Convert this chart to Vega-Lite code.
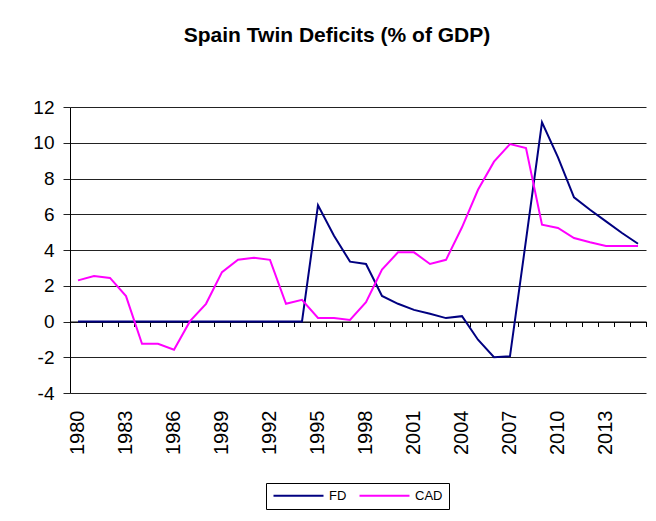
{
  "$schema": "https://vega.github.io/schema/vega-lite/v6.json",
  "width": 576,
  "height": 286,
  "autosize": {"type": "none"},
  "padding": {"left": 70, "top": 107, "right": 10, "bottom": 128},
  "background": "white",
  "title": {
    "text": "Spain Twin Deficits (% of GDP)",
    "font": "Liberation Sans",
    "fontSize": 21,
    "fontWeight": "bold",
    "color": "black",
    "anchor": "middle",
    "dx": -21,
    "offset": 52
  },
  "config": {
    "view": {"stroke": null},
    "axis": {"labelFont": "Liberation Sans", "labelColor": "black"}
  },
  "data": {
    "values": [
      {"year": 1980, "series": "FD", "value": 0}, {"year": 1981, "series": "FD", "value": 0},
      {"year": 1982, "series": "FD", "value": 0}, {"year": 1983, "series": "FD", "value": 0},
      {"year": 1984, "series": "FD", "value": 0}, {"year": 1985, "series": "FD", "value": 0},
      {"year": 1986, "series": "FD", "value": 0}, {"year": 1987, "series": "FD", "value": 0},
      {"year": 1988, "series": "FD", "value": 0}, {"year": 1989, "series": "FD", "value": 0},
      {"year": 1990, "series": "FD", "value": 0}, {"year": 1991, "series": "FD", "value": 0},
      {"year": 1992, "series": "FD", "value": 0}, {"year": 1993, "series": "FD", "value": 0},
      {"year": 1994, "series": "FD", "value": 0}, {"year": 1995, "series": "FD", "value": 6.5},
      {"year": 1996, "series": "FD", "value": 4.8}, {"year": 1997, "series": "FD", "value": 3.35},
      {"year": 1998, "series": "FD", "value": 3.22}, {"year": 1999, "series": "FD", "value": 1.43},
      {"year": 2000, "series": "FD", "value": 0.99}, {"year": 2001, "series": "FD", "value": 0.65},
      {"year": 2002, "series": "FD", "value": 0.43}, {"year": 2003, "series": "FD", "value": 0.19},
      {"year": 2004, "series": "FD", "value": 0.3}, {"year": 2005, "series": "FD", "value": -1.02},
      {"year": 2006, "series": "FD", "value": -2.0}, {"year": 2007, "series": "FD", "value": -1.94},
      {"year": 2008, "series": "FD", "value": 4.55}, {"year": 2009, "series": "FD", "value": 11.14},
      {"year": 2010, "series": "FD", "value": 9.18}, {"year": 2011, "series": "FD", "value": 6.95},
      {"year": 2012, "series": "FD", "value": 6.25}, {"year": 2013, "series": "FD", "value": 5.6},
      {"year": 2014, "series": "FD", "value": 4.95}, {"year": 2015, "series": "FD", "value": 4.35},
      {"year": 1980, "series": "CAD", "value": 2.3}, {"year": 1981, "series": "CAD", "value": 2.55},
      {"year": 1982, "series": "CAD", "value": 2.44}, {"year": 1983, "series": "CAD", "value": 1.42},
      {"year": 1984, "series": "CAD", "value": -1.25}, {"year": 1985, "series": "CAD", "value": -1.25},
      {"year": 1986, "series": "CAD", "value": -1.58}, {"year": 1987, "series": "CAD", "value": 0.02},
      {"year": 1988, "series": "CAD", "value": 0.99}, {"year": 1989, "series": "CAD", "value": 2.76},
      {"year": 1990, "series": "CAD", "value": 3.45}, {"year": 1991, "series": "CAD", "value": 3.56},
      {"year": 1992, "series": "CAD", "value": 3.45}, {"year": 1993, "series": "CAD", "value": 0.99},
      {"year": 1994, "series": "CAD", "value": 1.21}, {"year": 1995, "series": "CAD", "value": 0.2},
      {"year": 1996, "series": "CAD", "value": 0.2}, {"year": 1997, "series": "CAD", "value": 0.09},
      {"year": 1998, "series": "CAD", "value": 1.08}, {"year": 1999, "series": "CAD", "value": 2.9},
      {"year": 2000, "series": "CAD", "value": 3.87}, {"year": 2001, "series": "CAD", "value": 3.87},
      {"year": 2002, "series": "CAD", "value": 3.22}, {"year": 2003, "series": "CAD", "value": 3.45},
      {"year": 2004, "series": "CAD", "value": 5.27}, {"year": 2005, "series": "CAD", "value": 7.37},
      {"year": 2006, "series": "CAD", "value": 8.94}, {"year": 2007, "series": "CAD", "value": 9.93},
      {"year": 2008, "series": "CAD", "value": 9.7}, {"year": 2009, "series": "CAD", "value": 5.42},
      {"year": 2010, "series": "CAD", "value": 5.23}, {"year": 2011, "series": "CAD", "value": 4.67},
      {"year": 2012, "series": "CAD", "value": 4.43}, {"year": 2013, "series": "CAD", "value": 4.23},
      {"year": 2014, "series": "CAD", "value": 4.23}, {"year": 2015, "series": "CAD", "value": 4.23}
    ]
  },
  "layer": [
    {
      "mark": {"type": "line", "strokeWidth": 2},
      "encoding": {
        "x": {
          "field": "year",
          "type": "ordinal",
          "scale": {"type": "band", "paddingInner": 0, "paddingOuter": 0},
          "axis": {
            "orient": "bottom",
            "title": null,
            "domain": false,
            "ticks": false,
            "grid": false,
            "labelAngle": -90,
            "labelAlign": "right",
            "labelBaseline": "middle",
            "labelFontSize": 20,
            "labelPadding": 17,
            "labelExpr": "datum.value % 3 == 0 ? datum.label : ''"
          }
        },
        "y": {
          "field": "value",
          "type": "quantitative",
          "scale": {"domain": [-4, 12], "nice": false, "zero": false},
          "axis": {
            "title": null,
            "values": [-4, -2, 0, 2, 4, 6, 8, 10, 12],
            "labelExpr": "'' + datum.value",
            "grid": true,
            "gridColor": "#222222",
            "gridWidth": 1,
            "domain": true,
            "domainColor": "black",
            "domainWidth": 1,
            "ticks": true,
            "tickSize": 7,
            "tickColor": "#222222",
            "labelFontSize": 19,
            "labelPadding": 9
          }
        },
        "color": {
          "field": "series",
          "type": "nominal",
          "scale": {"domain": ["FD", "CAD"], "range": ["#000080", "#FF00FF"]},
          "legend": {
            "title": null,
            "orient": "none",
            "legendX": 196,
            "legendY": 376,
            "direction": "horizontal",
            "strokeColor": "black",
            "padding": 6,
            "symbolType": "M-1,0H9",
            "symbolSize": 100,
            "symbolStrokeWidth": 2,
            "symbolFillColor": "transparent",
            "labelOffset": 44,
            "labelFont": "Liberation Sans",
            "labelFontSize": 13,
            "labelColor": "black",
            "columnPadding": 8
          }
        }
      }
    },
    {
      "mark": {"type": "rule", "opacity": 0},
      "encoding": {
        "x": {
          "field": "year",
          "type": "ordinal",
          "axis": {
            "orient": "bottom",
            "offset": -71.5,
            "title": null,
            "labels": false,
            "grid": false,
            "domain": true,
            "domainColor": "black",
            "ticks": true,
            "tickBand": "extent",
            "tickSize": 5,
            "tickColor": "black"
          }
        }
      }
    }
  ],
  "resolve": {"axis": {"x": "independent"}}
}
